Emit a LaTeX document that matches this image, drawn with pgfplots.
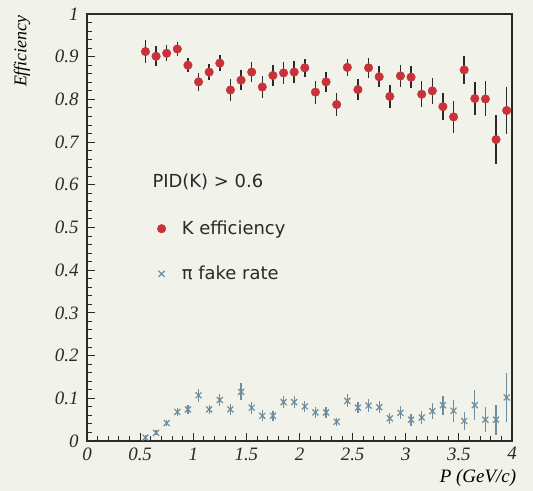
\documentclass[border=0pt]{standalone}
\usepackage{pgfplots}
\pgfplotsset{compat=1.18}
\usepackage{fontspec}
\setmainfont{Liberation Serif}
\newfontfamily\legfont{DejaVu Sans}
\definecolor{bg}{HTML}{F1F2EA}
\definecolor{kred}{HTML}{C8323A}
\definecolor{pigray}{HTML}{6E8C9C}
\definecolor{axc}{HTML}{2A2A2A}
\pgfplotstableread{
x y e
0.55 0.912 0.026
0.65 0.901 0.023
0.75 0.908 0.019
0.85 0.918 0.016
0.95 0.880 0.017
1.05 0.841 0.021
1.15 0.864 0.019
1.25 0.885 0.019
1.35 0.822 0.025
1.45 0.845 0.023
1.55 0.864 0.023
1.65 0.829 0.025
1.75 0.856 0.025
1.85 0.862 0.025
1.95 0.864 0.025
2.05 0.874 0.021
2.15 0.817 0.027
2.25 0.841 0.024
2.35 0.788 0.027
2.45 0.875 0.020
2.55 0.823 0.025
2.65 0.874 0.023
2.75 0.853 0.025
2.85 0.807 0.027
2.95 0.855 0.025
3.05 0.852 0.026
3.15 0.812 0.030
3.25 0.820 0.031
3.35 0.783 0.032
3.45 0.759 0.038
3.55 0.869 0.032
3.65 0.802 0.039
3.75 0.801 0.041
3.85 0.706 0.057
3.95 0.774 0.055
}\keff
\pgfplotstableread{
x y e
0.55 0.008 0.005
0.65 0.019 0.006
0.75 0.042 0.008
0.85 0.068 0.009
0.95 0.074 0.010
1.05 0.107 0.015
1.15 0.074 0.011
1.25 0.096 0.013
1.35 0.074 0.012
1.45 0.115 0.020
1.55 0.078 0.014
1.65 0.059 0.013
1.75 0.059 0.012
1.85 0.091 0.014
1.95 0.091 0.014
2.05 0.081 0.013
2.15 0.067 0.012
2.25 0.067 0.012
2.35 0.045 0.010
2.45 0.094 0.015
2.55 0.078 0.013
2.65 0.083 0.015
2.75 0.079 0.014
2.85 0.053 0.013
2.95 0.066 0.015
3.05 0.050 0.014
3.15 0.055 0.015
3.25 0.070 0.018
3.35 0.084 0.022
3.45 0.071 0.026
3.55 0.047 0.022
3.65 0.084 0.035
3.75 0.050 0.030
3.85 0.050 0.035
3.95 0.102 0.058
}\pifake
\begin{document}
\begin{tikzpicture}
\fill[bg] (0,0) rectangle (533bp,491bp);
\useasboundingbox (0,0) rectangle (533bp,491bp);
\begin{axis}[
  at={(87bp,50bp)}, anchor=south west,
  scale only axis, width=425bp, height=427bp,
  xmin=0, xmax=4, ymin=0, ymax=1,
  axis line style={axc, line width=1.1pt},
  xtick={0,0.5,...,4}, minor x tick num=4,
  ytick={0,0.1,...,1.0}, minor y tick num=4,
  xticklabels={0,0.5,1,1.5,2,2.5,3,3.5,4},
  yticklabels={0,0.1,0.2,0.3,0.4,0.5,0.6,0.7,0.8,0.9,1},
  xtick pos=left, ytick pos=left,
  tick align=inside,
  major tick length=8bp, minor tick length=5bp,
  every tick/.style={axc, line width=1pt},
  tick label style={font=\fontsize{19}{19}\selectfont\itshape, text=axc},
  xticklabel style={yshift=-3bp},
  yticklabel style={xshift=-5bp},
  xlabel={P (GeV/c)}, ylabel={Efficiency},
  xlabel style={font=\fontsize{19}{19}\selectfont\itshape, at={(axis description cs:0.92,-0.087)}, anchor=center},
  ylabel style={font=\fontsize{18}{18}\selectfont\itshape, at={(axis description cs:-0.153,0.913)}, anchor=center},
  legend style={draw=none, fill=none, at={(axis description cs:0.165,0.52)}, anchor=north west,
     font=\fontsize{18}{18}\selectfont\legfont, row sep=26bp, column sep=14bp, inner sep=0pt, text=axc},
  legend cell align=left,
  clip=false,
]
\addplot[only marks, mark=*, mark size=4.3bp, color=kred, mark options={fill=kred, draw=kred},
  error bars/.cd, y dir=both, y explicit, error bar style={axc, line width=1.4pt}, error mark=none]
  table[x=x, y=y, y error=e] {\keff};
\addlegendentry{K efficiency}
\addplot[only marks, mark=x, mark size=4.2bp, color=pigray, mark options={line width=1.2pt},
  error bars/.cd, y dir=both, y explicit, error bar style={pigray, line width=1.3pt}, error mark=none]
  table[x=x, y=y, y error=e] {\pifake};
\addlegendentry{π fake rate}
\node[anchor=west, font=\fontsize{18}{18}\selectfont\legfont, text=axc] at (axis description cs:0.146,0.607) {PID(K) > 0.6};
\end{axis}
\end{tikzpicture}
\end{document}
